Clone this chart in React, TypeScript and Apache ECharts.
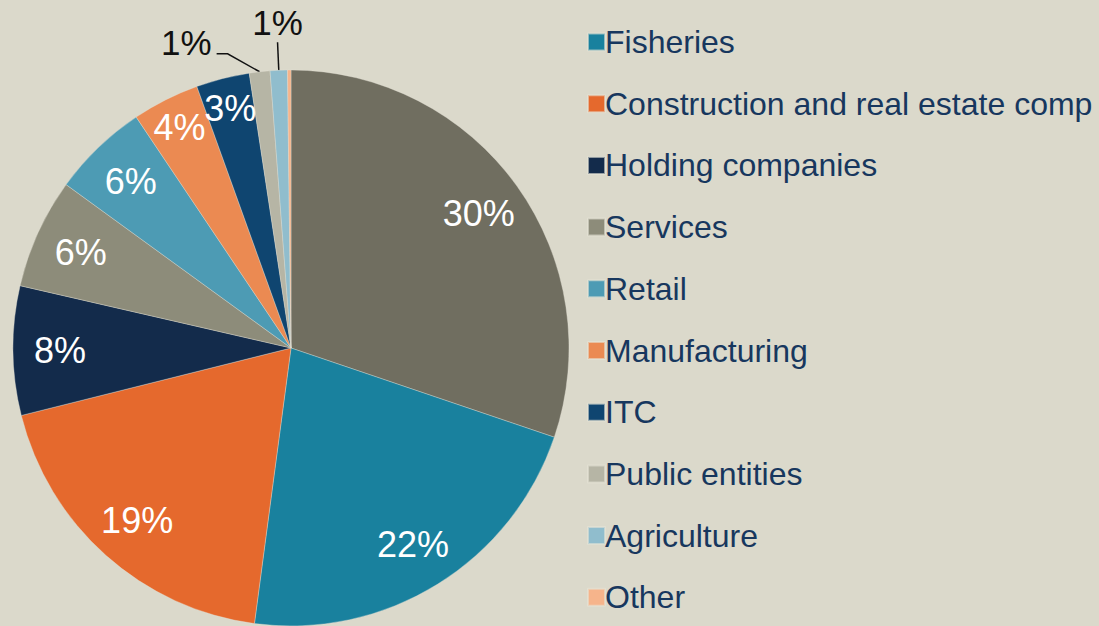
import React, { useEffect, useRef } from "react";
import * as echarts from "echarts";

const categories = [
  "Unspecified",
  "Fisheries",
  "Construction and real estate comp",
  "Holding companies",
  "Services",
  "Retail",
  "Manufacturing",
  "ITC",
  "Public entities",
  "Agriculture",
  "Other",
];
const shares = [30.2, 21.9, 19.0, 7.5, 6.4, 5.6, 3.9, 3.1, 1.2, 1.0, 0.2];
const colors = [
  "#706e60",
  "#19819e",
  "#e5692d",
  "#132b4b",
  "#8d8c7a",
  "#4d9bb4",
  "#eb8a52",
  "#0f4570",
  "#b6b5a5",
  "#90bdcd",
  "#f6b48b",
];
const legendNames = categories.slice(1);
const outsideLabelled = ["Public entities", "Agriculture"];

const BG = "#dbd9cb";
const FONT = "'Liberation Sans', Arial, sans-serif";

export default function App() {
  const ref = useRef<HTMLDivElement>(null);
  useEffect(() => {
    document.body.style.margin = "0";
    const chart = echarts.init(ref.current!, null, { renderer: "svg" });
    const cx = 291;
    const cy = 348;
    const R = 278;
    const total = shares.reduce((a, b) => a + b, 0);
    const midAngle = (i: number) => {
      let before = 0;
      for (let k = 0; k < i; k++) before += shares[k];
      return ((before + shares[i] / 2) / total) * Math.PI * 2;
    };
    const pct = (p: any) => Math.round(p.percent) + "%";

    const data = categories.map((name, i) => {
      const outside = outsideLabelled.includes(name);
      const showInside = !outside && shares[i] >= 2;
      return {
        name,
        value: shares[i],
        itemStyle: { color: colors[i] },
        label: outside
          ? {
              show: true,
              position: "outside",
              color: "#111111",
              fontSize: 35,
              fontFamily: FONT,
              formatter: pct,
            }
          : showInside
          ? {
              show: true,
              position: "outside",
              color: "#ffffff",
              fontSize: 36,
              fontFamily: FONT,
              formatter: pct,
            }
          : { show: false },
        labelLine: outside
          ? {
              show: true,
              length: name === "Agriculture" ? 28 : 16,
              length2: name === "Agriculture" ? 0 : 30,
              lineStyle: { color: "#111111", width: 1.5 },
            }
          : { show: false },
      };
    });

    chart.setOption({
      animation: false,
      backgroundColor: BG,
      legend: {
        data: legendNames,
        orient: "vertical",
        left: 582,
        top: 20,
        icon: "rect",
        itemWidth: 17,
        itemHeight: 17,
        itemGap: 27.7,
        textStyle: {
          color: "#17375e",
          fontSize: 32,
          fontFamily: FONT,
          lineHeight: 34,
          padding: [0, 0, 0, -5],
        },
        selectedMode: false,
      },
      series: [
        {
          type: "pie",
          center: [cx, cy],
          radius: R,
          startAngle: 90,
          clockwise: true,
          avoidLabelOverlap: false,
          itemStyle: { borderColor: "rgba(230,228,215,0.6)", borderWidth: 0.6 },
          emphasis: { disabled: true },
          data,
          labelLayout: (p: any) => {
            const name = categories[p.dataIndex];
            if (name === "Agriculture" && p.labelLinePoints) {
              const end = p.labelLinePoints[p.labelLinePoints.length - 1];
              return {
                x: end[0],
                y: end[1] - 2,
                align: "center",
                verticalAlign: "bottom",
                labelLinePoints: p.labelLinePoints,
              };
            }
            if (name === "Public entities" && p.labelLinePoints) {
              const s = p.labelLinePoints[0];
              const mid = [s[0] - 32, s[1] - 18];
              const end = [mid[0] - 11, mid[1]];
              return {
                x: end[0] - 5,
                y: end[1] - 11,
                align: "right",
                verticalAlign: "middle",
                labelLinePoints: [s, mid, end],
              };
            }
            if (!outsideLabelled.includes(name) && shares[p.dataIndex] >= 2) {
              const a = midAngle(p.dataIndex);
              const rl = shares[p.dataIndex] >= 5 ? 231 : 247;
              return {
                x: cx + rl * Math.sin(a),
                y: cy - rl * Math.cos(a),
                align: "center",
                verticalAlign: "middle",
              };
            }
            return {};
          },
        },
      ],
    });
    return () => chart.dispose();
  }, []);
  return (
    <div
      ref={ref}
      style={{ position: "absolute", left: 0, top: 0, width: 1099, height: 626 }}
    />
  );
}
